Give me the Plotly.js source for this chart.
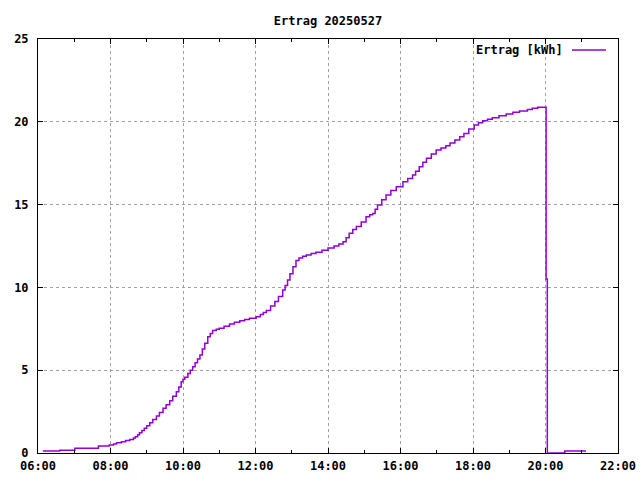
<!DOCTYPE html>
<html>
<head>
<meta charset="utf-8">
<script src="https://cdn.plot.ly/plotly-3.0.1.min.js"></script>
<style>html,body{margin:0;padding:0;background:#fff;}#chart{width:640px;height:480px;}</style>
</head>
<body>
<div id="chart"></div>
<script>
var day = "2025-05-27";
var times = ["06:08","06:36","07:01","07:40","07:58","08:05","08:10","08:18","08:25","08:32","08:38","08:41","08:45","08:48","08:52","08:56","09:00","09:05","09:10","09:16","09:21","09:27","09:32","09:38","09:43","09:49","09:53","09:57","10:00","10:03","10:08","10:12","10:16","10:20","10:24","10:28","10:32","10:36","10:41","10:45","10:49","10:55","11:00","11:08","11:17","11:25","11:34","11:42","11:50","12:01","12:08","12:13","12:18","12:25","12:32","12:38","12:45","12:49","12:53","12:57","13:02","13:07","13:12","13:18","13:24","13:32","13:40","13:50","14:00","14:10","14:18","14:25","14:30","14:35","14:41","14:47","14:55","15:03","15:09","15:14","15:18","15:22","15:29","15:36","15:44","15:53","16:04","16:12","16:20","16:25","16:31","16:37","16:43","16:51","16:59","17:07","17:15","17:22","17:30","17:38","17:45","17:53","18:02","18:09","18:16","18:24","18:32","18:43","18:55","19:06","19:17","19:30","19:38","19:47","20:01","20:03","20:32","21:07"];
var ertrag = [0.12,0.16,0.28,0.42,0.48,0.55,0.62,0.68,0.75,0.82,0.90,0.98,1.10,1.23,1.36,1.49,1.65,1.83,2.02,2.23,2.45,2.70,2.92,3.16,3.42,3.70,3.98,4.30,4.45,4.57,4.80,5.00,5.21,5.45,5.68,5.92,6.28,6.62,7.02,7.22,7.39,7.47,7.53,7.66,7.79,7.90,7.99,8.06,8.13,8.23,8.36,8.48,8.60,8.88,9.15,9.45,9.84,10.12,10.45,10.82,11.25,11.62,11.78,11.88,11.96,12.05,12.12,12.25,12.38,12.50,12.62,12.76,13.00,13.27,13.50,13.67,13.95,14.27,14.38,14.47,14.72,14.98,15.30,15.58,15.85,16.08,16.38,16.58,16.79,17.02,17.29,17.55,17.80,18.05,18.30,18.42,18.55,18.72,18.90,19.10,19.30,19.57,19.81,19.95,20.07,20.16,20.25,20.37,20.47,20.57,20.65,20.75,20.82,20.88,10.5,0,0.12,0.12];
var seriesName = "Ertrag [kWh]";
var titleText = "Ertrag 20250527";

var x = times.map(function(t){ return day + " " + t; });
var font = {family: "DejaVu Sans Mono", size: 12, color: "#000", weight: "bold"};

var trace = {
  x: x, y: ertrag, type: "scatter", mode: "lines", name: seriesName,
  line: {color: "#9400d3", width: 1.5, shape: "hv"}, showlegend: false
};

var L = 38, R = 618, T = 39, B = 453;
function px(xp){ return (xp - L) / (R - L); }
function py(yp){ return (B - yp) / (B - T); }

var layout = {
  width: 640, height: 480,
  margin: {l: L, r: 640 - R, t: T, b: 480 - B, pad: 0},
  paper_bgcolor: "#fff", plot_bgcolor: "#fff",
  font: font,
  title: {text: titleText, font: font, x: 0.5, xref: "paper", xanchor: "center", y: 1 - 21/480, yref: "container", yanchor: "middle"},
  xaxis: {
    type: "date", range: [day + " 06:00", day + " 22:00"],
    dtick: 7200000, tick0: day + " 06:00", tickformat: "%H:%M",
    ticks: "inside", ticklen: 5, tickcolor: "#000", tickwidth: 1,
    showline: true, linecolor: "#000", linewidth: 1, mirror: "allticks",
    showgrid: true, gridcolor: "#a0a0a0", griddash: "3px,3px", gridwidth: 1,
    zeroline: false, tickfont: font, ticklabelstandoff: 2,
    minor: {dtick: 3600000, tick0: day + " 06:00", ticks: "inside", ticklen: 3, tickcolor: "#000", showgrid: false}
  },
  yaxis: {
    range: [0, 25], dtick: 5, tick0: 0,
    ticks: "inside", ticklen: 5, tickcolor: "#000", tickwidth: 1,
    showline: true, linecolor: "#000", linewidth: 1, mirror: "allticks",
    showgrid: true, gridcolor: "#a0a0a0", griddash: "3px,3px", gridwidth: 1,
    zeroline: false, tickfont: font, ticklabelstandoff: 6
  },
  annotations: [{
    text: seriesName, xref: "paper", yref: "paper", x: px(565), y: py(50),
    xanchor: "right", yanchor: "middle", showarrow: false, font: font
  }],
  shapes: [{
    type: "line", xref: "paper", yref: "paper", x0: px(572), x1: px(606), y0: py(50), y1: py(50),
    line: {color: "#9400d3", width: 1.5}
  }]
};

Plotly.newPlot("chart", [trace], layout, {staticPlot: true, displayModeBar: false});
</script>
</body>
</html>
